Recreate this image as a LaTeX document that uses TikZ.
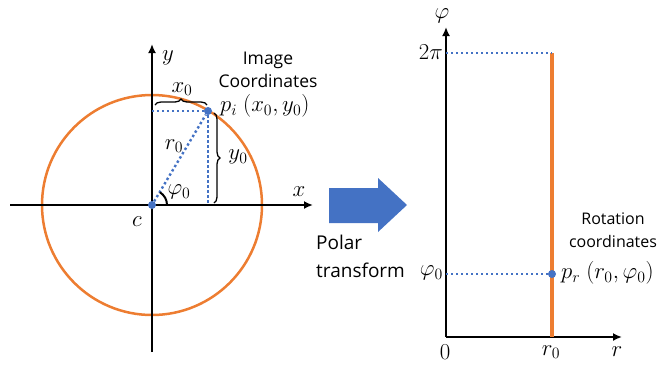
\documentclass[tikz,border=0pt]{standalone}
\usepackage{fontspec}
\setmainfont{Open Sans}
\usetikzlibrary{arrows.meta,decorations.pathreplacing}
\definecolor{myorange}{HTML}{ED7D31}
\definecolor{myblue}{HTML}{4472C4}
\newcommand{\mlab}[1]{\scalebox{1.1}{$#1$}}
\begin{document}
\begin{tikzpicture}[x=1pt,y=-1pt,
  axis/.style={line width=2pt,-{Latex[length=9pt,width=8pt]}},
  dots/.style={myblue,line width=2.4pt,dash pattern=on 2.4pt off 2.6pt},
  pt/.style={circle,fill=myblue,inner sep=0pt,minimum size=8pt},
  lbl/.style={font=\fontsize{20.74}{24}\selectfont,inner sep=0pt},
  txt/.style={align=center,inner sep=0pt},
  brace/.style={decorate,decoration={brace,amplitude=6pt},line width=1.3pt}]
\useasboundingbox (0,0) rectangle (660,365);
% left diagram
\draw[myorange,line width=2.5pt] (152,205) circle (110);
\coordinate (xl) at (10,205);
\coordinate (xr) at (313,205);
\coordinate (yb) at (152,352);
\coordinate (yt) at (152,44);
\draw[axis] (xl) -- (xr);
\draw[axis] (yb) -- (yt);
\node[pt] (c) at (152,205) {};
\node[pt] (pi) at (208,111) {};
\coordinate (yi) at (152,111);
\coordinate (xi) at (208,205);
\draw[dots] (yi) -- (pi);
\draw[dots] (pi) -- (xi);
\draw[dots] (c) -- (pi);
\draw[line width=2pt] ([shift={(0:15)}]152,205) arc[start angle=0,end angle=-58,radius=15];
\draw[brace] (155,105) -- (207,105);
\draw[brace] (214,113) -- (214,203);
\node[lbl] (lx0) at (182,89) {\mlab{x_0}};
\node[lbl] (ly0) at (238,157) {\mlab{y_0}};
\node[lbl] (lr0) at (174,146) {\mlab{r_0}};
\node[lbl] (lphi) at (179,192) {\mlab{\varphi_0}};
\node[lbl] (lc) at (137,222) {\mlab{c}};
\node[lbl] (lx) at (299,192) {\mlab{x}};
\node[lbl] (ly) at (168,58) {\mlab{y}};
\node[txt,font=\fontsize{17.5}{23}\selectfont] (img) at (268,70) {Image\\Coordinates};
\node[lbl,anchor=west] (lpi) at (220,106) {\mlab{p_i\ (x_0,y_0)}};
% arrow
\fill[myblue] (329,188) -- (378,188) -- (378,178) -- (407,205) -- (378,232) -- (378,223) -- (329,223) -- cycle;
\node[txt,font=\fontsize{19}{28}\selectfont,align=left,anchor=west] (polar) at (316,256) {Polar\\transform};
% right diagram
\coordinate (o) at (446,337);
\coordinate (rend) at (622,337);
\coordinate (pend) at (446,27);
\draw[axis] (o) -- (rend);
\draw[axis] (o) -- (pend);
\coordinate (top) at (552,53);
\coordinate (bot) at (552,337);
\coordinate (t2) at (446,53);
\coordinate (t0) at (446,274);
\draw[myorange,line width=3.5pt] (bot) -- (top);
\draw[dots] (t2) -- (top);
\node[pt] (pr) at (552,274) {};
\draw[dots] (t0) -- (pr);
\node[lbl] (lp) at (442,16) {\mlab{\varphi}};
\node[lbl,anchor=east] (l2pi) at (443,52) {\mlab{2\pi}};
\node[lbl,anchor=east] (lp0) at (443,273) {\mlab{\varphi_0}};
\node[lbl] (l0) at (445,352) {\mlab{0}};
\node[lbl] (lr0b) at (551,352) {\mlab{r_0}};
\node[lbl] (lr) at (617,352) {\mlab{r}};
\node[txt,font=\fontsize{16}{23}\selectfont] (rot) at (613,230) {Rotation\\coordinates};
\node[lbl,anchor=west] (lpr) at (561,273) {\mlab{p_r\ (r_0,\varphi_0)}};
\end{tikzpicture}
\end{document}
